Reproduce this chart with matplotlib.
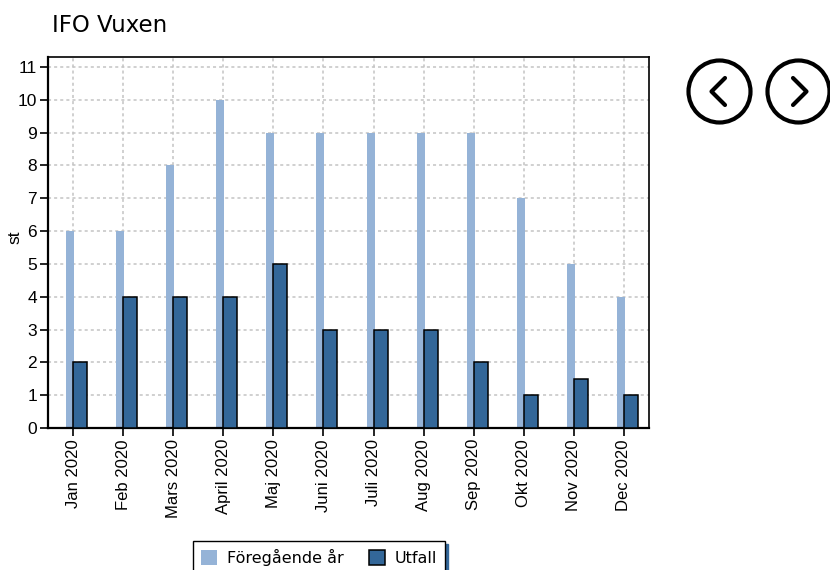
import numpy as np
import matplotlib.pyplot as plt
from matplotlib.patches import Circle

manader = ['Jan 2020', 'Feb 2020', 'Mars 2020', 'April 2020', 'Maj 2020', 'Juni 2020',
           'Juli 2020', 'Aug 2020', 'Sep 2020', 'Okt 2020', 'Nov 2020', 'Dec 2020']
foregaende = [6, 6, 8, 10, 9, 9, 9, 9, 9, 7, 5, 4]
utfall = [2, 4, 4, 4, 5, 3, 3, 3, 2, 1, 1.5, 1]

ljus = '#95b3d7'
mork = '#336799'

fig = plt.figure(figsize=(8.3, 5.7), dpi=100)
ax = fig.add_axes([48/830, 1 - 428/570, 601/830, 371/570])

x = np.arange(len(manader))
ax.bar(x - 0.06, foregaende, width=0.16, color=ljus, zorder=2, label='Föregående år')
ax.bar(x + 0.14, utfall, width=0.28, color=mork, edgecolor='black', linewidth=1.1,
       zorder=3, label='Utfall')

ax.set_xlim(-0.5, 11.5)
ax.set_ylim(0, 11.3)
ax.set_yticks(range(12))
ax.set_xticks(x)
ax.set_xticklabels(manader, rotation=90, fontsize=12, family='Liberation Sans')
for t in ax.get_yticklabels():
    t.set_fontsize(12.5)
    t.set_family('Liberation Sans')
ax.set_ylabel('st', fontsize=12.5, family='Liberation Sans')
ax.yaxis.set_label_coords(-0.043, 0.515)
ax.tick_params(direction='out', length=6, width=1.2, colors='black', pad=2)
ax.grid(True, color='#c4c4c4', linestyle=(0, (2, 2)), linewidth=1.1, zorder=0)
for side in ['left', 'bottom']:
    ax.spines[side].set_linewidth(1.6)
for side in ['top', 'right']:
    ax.spines[side].set_linewidth(1.2)

fig.text(52/830, 1 - 26/570, 'IFO Vuxen', fontsize=16.5, va='center', ha='left')

leg = fig.legend(loc='upper left', bbox_to_anchor=(193/830, 1 - 541/570), ncol=2,
                 fontsize=11.5, frameon=True, fancybox=False, handlelength=1, handleheight=1,
                 columnspacing=1.6, handletextpad=0.6, borderpad=0.5, borderaxespad=0,
                 shadow={'color': mork, 'alpha': 1})
leg.get_frame().set_edgecolor('black')
leg.get_frame().set_linewidth(1)

# navigeringsknappar
nav = fig.add_axes([0, 0, 1, 1], zorder=-1)
nav.set_xlim(0, 830)
nav.set_ylim(570, 0)
nav.axis('off')
for cx, riktning in [(719.5, -1), (798.5, 1)]:
    nav.add_patch(Circle((cx, 91.5), 31, fill=False, edgecolor='black', linewidth=3))
    nav.plot([cx - 5.5 * riktning, cx + 8 * riktning, cx - 5.5 * riktning],
             [78, 91.5, 105], color='black', linewidth=3, solid_capstyle='round')

fig.savefig('out.png', dpi=100)
